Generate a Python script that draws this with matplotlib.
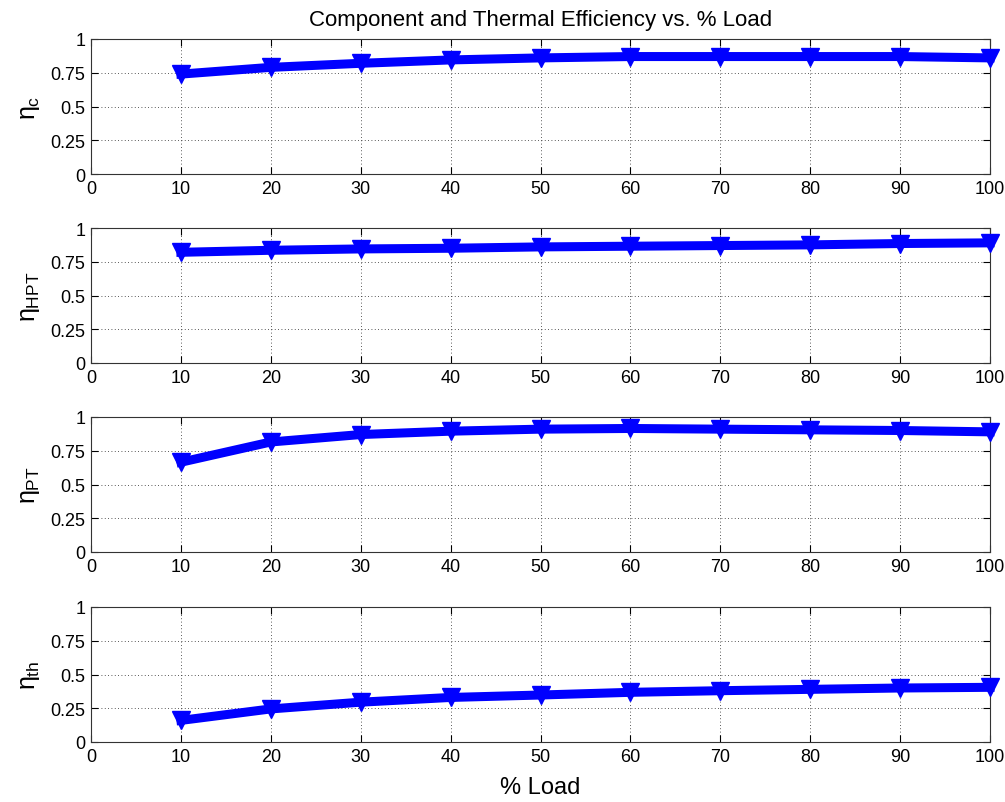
import matplotlib
matplotlib.use("Agg")
import matplotlib.pyplot as plt

load = [10, 20, 30, 40, 50, 60, 70, 80, 90, 100]
eta_c = [0.74, 0.79, 0.82, 0.845, 0.86, 0.87, 0.87, 0.87, 0.87, 0.86]
eta_hpt = [0.82, 0.835, 0.845, 0.85, 0.86, 0.865, 0.87, 0.875, 0.885, 0.89]
eta_pt = [0.665, 0.815, 0.87, 0.895, 0.91, 0.915, 0.91, 0.905, 0.9, 0.89]
eta_th = [0.16, 0.245, 0.295, 0.33, 0.348, 0.368, 0.38, 0.39, 0.4, 0.405]

series = [eta_c, eta_hpt, eta_pt, eta_th]
ylabels = [r'$\eta_c$', r'$\eta_{HPT}$', r'$\eta_{PT}$', r'$\eta_{th}$']
xticks = [0, 10, 20, 30, 40, 50, 60, 70, 80, 90, 100]
yticks = [0, 0.25, 0.5, 0.75, 1]
yticklabels = ['0', '0.25', '0.5', '0.75', '1']

plt.rcParams['font.family'] = ['Liberation Sans', 'DejaVu Sans']
plt.rcParams['mathtext.fontset'] = 'custom'
plt.rcParams['mathtext.rm'] = 'Liberation Sans'
plt.rcParams['mathtext.it'] = 'Liberation Sans'

fig = plt.figure(figsize=(10.05, 8.03), dpi=100)
W, H = 1005, 803
left, right = 91, 990
tops = [40, 229, 418, 608]
h = 135
for i, (vals, lab) in enumerate(zip(series, ylabels)):
    t = tops[i]
    ax = fig.add_axes([left / W, 1 - (t + h) / H, (right - left) / W, h / H])
    ax.plot(load, vals, color='#0000ff', linewidth=6.5, marker='v',
            markersize=13, markerfacecolor='#0000ff', markeredgecolor='#0000ff',
            clip_on=False, zorder=3)
    ax.set_xlim(0, 100)
    ax.set_ylim(0, 1)
    ax.set_xticks(xticks)
    ax.set_yticks(yticks)
    ax.set_yticklabels(yticklabels)
    ax.grid(True, linestyle=(0, (1, 3)), color='#222222', linewidth=0.6)
    ax.tick_params(direction='in', top=True, right=True, labelsize=13,
                   length=5, width=0.8, pad=4)
    for s in ax.spines.values():
        s.set_linewidth(0.8)
        s.set_color('#333333')
    ax.set_ylabel(lab, fontsize=18, labelpad=6)
    if i == 0:
        ax.set_title('Component and Thermal Efficiency vs. % Load', fontsize=16, pad=10)
    if i == 3:
        ax.set_xlabel('% Load', fontsize=17, labelpad=8)

fig.savefig('out.png', dpi=100)
